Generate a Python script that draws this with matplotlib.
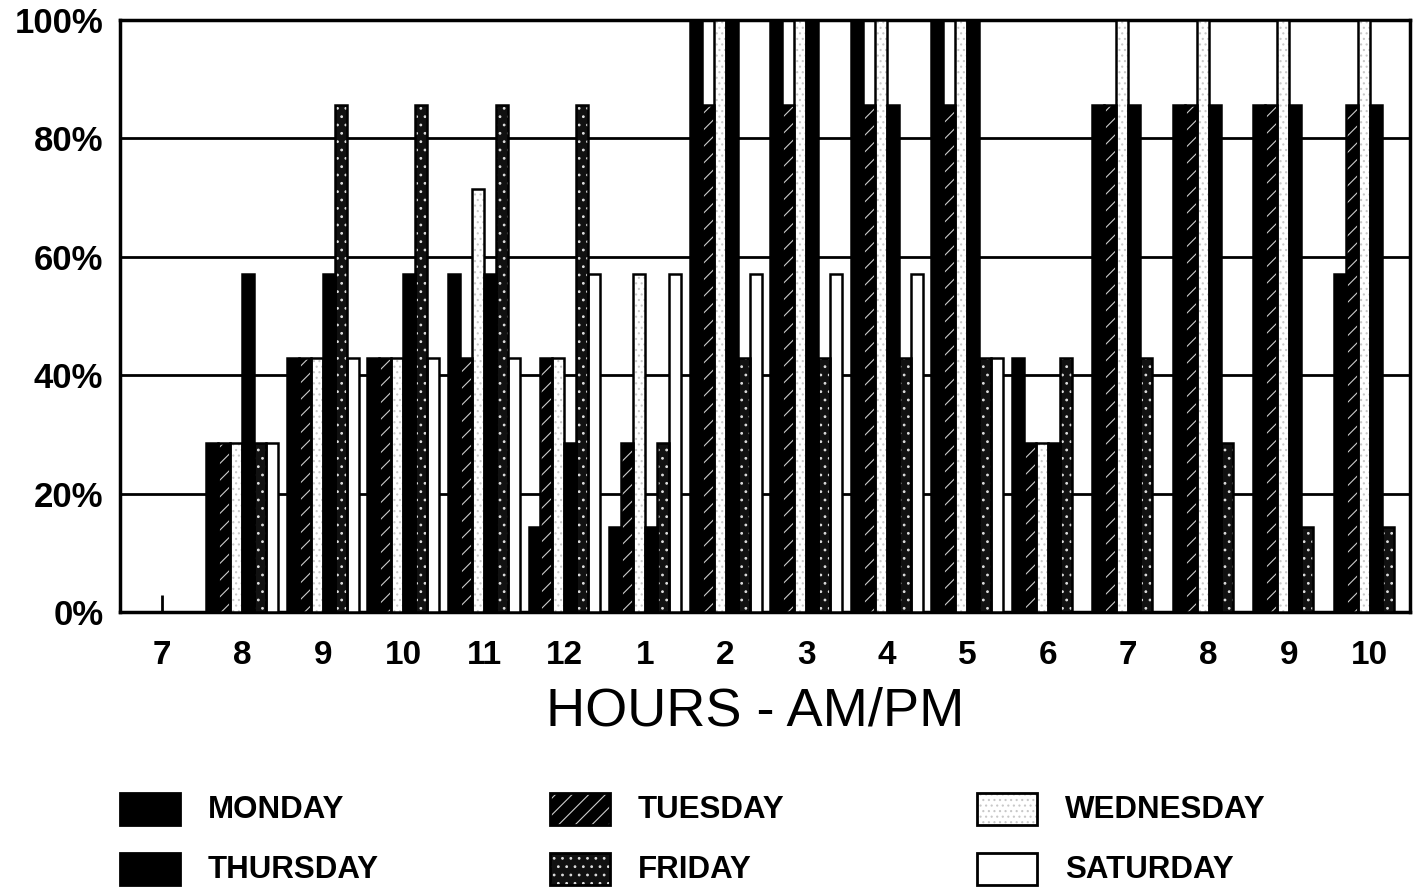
import numpy as np
import matplotlib.pyplot as plt
from matplotlib.patches import Rectangle

plt.rcParams['font.family'] = ['Liberation Sans', 'DejaVu Sans']
plt.rcParams['hatch.linewidth'] = 0.8

# Datos: porcentaje de ocupación por hora y día
hours = ['7', '8', '9', '10', '11', '12', '1', '2', '3', '4', '5', '6', '7', '8', '9', '10']
days = ['MONDAY', 'TUESDAY', 'WEDNESDAY', 'THURSDAY', 'FRIDAY', 'SATURDAY']

monday    = [0, 28.6, 42.9, 42.9, 57.1, 14.3, 14.3, 100, 100, 100, 100, 42.9, 85.7, 85.7, 85.7, 57.1]
tuesday   = [0, 28.6, 42.9, 42.9, 42.9, 42.9, 28.6, 85.7, 85.7, 85.7, 85.7, 28.6, 85.7, 85.7, 85.7, 85.7]
wednesday = [0, 28.6, 42.9, 42.9, 71.4, 42.9, 57.1, 100, 100, 100, 100, 28.6, 100, 100, 100, 100]
thursday  = [0, 57.1, 57.1, 57.1, 57.1, 28.6, 14.3, 100, 100, 85.7, 100, 28.6, 85.7, 85.7, 85.7, 85.7]
friday    = [0, 28.6, 85.7, 85.7, 85.7, 85.7, 28.6, 42.9, 42.9, 42.9, 42.9, 42.9, 42.9, 28.6, 14.3, 14.3]
saturday  = [0, 28.6, 42.9, 42.9, 42.9, 57.1, 57.1, 57.1, 57.1, 57.1, 42.9, 0, 0, 0, 0, 0]

series = [monday, tuesday, wednesday, thursday, friday, saturday]

# Estilo de cada día: (relleno, color de trama, trama)
styles = [
    ('black', 'black', None),
    ('black', '#cccccc', '//'),
    ('white', '#c8c8c8', '...'),
    ('black', 'black', None),
    ('#111111', '#dddddd', '..'),
    ('white', 'white', None),
]

fig = plt.figure(figsize=(14.13, 8.89), dpi=100)
ax = fig.add_axes([120 / 1413, 1 - 612 / 889, 1290 / 1413, 592 / 889])

x = np.arange(len(hours))
w = 0.149
for i, (vals, (fc, hc, hatch)) in enumerate(zip(series, styles)):
    pos = x + (i - 2.5) * w
    ax.bar(pos, vals, w, color=fc, edgecolor=hc, hatch=hatch, linewidth=0, zorder=3)
    ax.bar(pos, vals, w, fill=False, edgecolor='black', linewidth=1.8, zorder=4)

ax.set_xlim(-0.52, 15.5)
ax.set_ylim(0, 100)
ax.set_yticks([0, 20, 40, 60, 80, 100])
ax.set_yticklabels(['0%', '20%', '40%', '60%', '80%', '100%'], fontsize=25, fontweight='bold')
ax.set_xticks(x)
ax.set_xticklabels(hours, fontsize=24, fontweight='bold')
ax.tick_params(axis='y', length=0, pad=12)
ax.tick_params(axis='x', direction='in', length=12, width=2, pad=20)
ax.yaxis.grid(True, color='black', linewidth=2)
ax.set_axisbelow(True)
for s in ax.spines.values():
    s.set_linewidth(2.5)

fig.text(755 / 1413, 1 - 712 / 889, 'HOURS - AM/PM', fontsize=39, ha='center', va='center')

# Leyenda dibujada a mano
lg = fig.add_axes([0, 0, 1, 1])
lg.set_xlim(0, 1413)
lg.set_ylim(889, 0)
lg.axis('off')
cols = [120, 550, 977]
rows = [793, 853]
for i, (name, (fc, hc, hatch)) in enumerate(zip(days, styles)):
    cx = cols[i % 3]
    cy = rows[i // 3]
    lg.add_patch(Rectangle((cx, cy), 60, 32, facecolor=fc, edgecolor=hc, hatch=hatch, linewidth=0))
    lg.add_patch(Rectangle((cx, cy), 60, 32, fill=False, edgecolor='black', linewidth=2))
    lg.text(cx + 88, cy + 17, name, fontsize=22.5, fontweight='bold', va='center', ha='left')

fig.savefig('out.png', dpi=100)
